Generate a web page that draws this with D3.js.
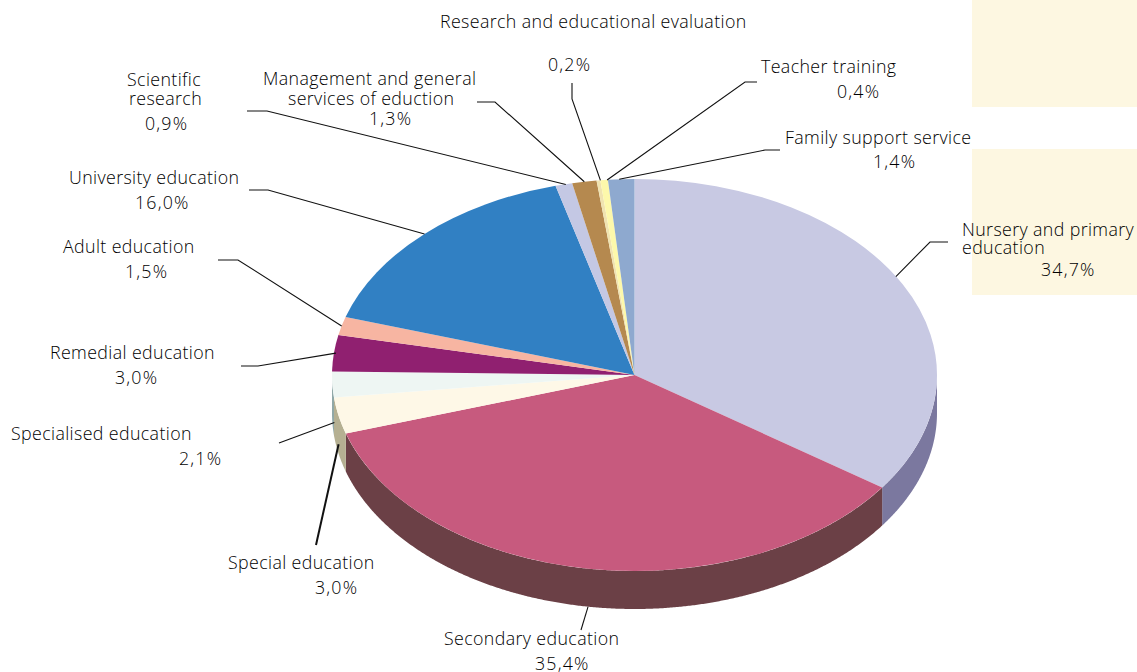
<!DOCTYPE html>
<html>
<head>
<meta charset="utf-8">
<script src="https://cdn.jsdelivr.net/npm/d3@7"></script>
<style>
  body { margin: 0; background: #fff; }
  svg { display: block; }
  text { font-family: "Open Sans", sans-serif; font-size: 17.8px; font-weight: 300; fill: #000; letter-spacing: 0.38px; }
  text.pct { letter-spacing: 1.2px; }
</style>
</head>
<body>
<script>
const categories = [
  "Nursery and primary education", "Secondary education", "Special education",
  "Specialised education", "Remedial education", "Adult education",
  "University education", "Scientific research",
  "Management and general services of eduction",
  "Research and educational evaluation", "Teacher training", "Family support service"
];
const shares = [34.7, 35.4, 3.0, 2.1, 3.0, 1.5, 16.0, 0.9, 1.3, 0.2, 0.4, 1.4];

const topColors = ["#c8c9e3", "#c75a7e", "#fef8e7", "#eef6f3", "#902070", "#f7b5a2",
  "#3180c3", "#c4c8e4", "#b5894f", "#f0e3b0", "#fdf8ab", "#8ea9cf"];
const wallColors = ["#7b789f", "#6b4046", "#b5b092", "#90a8a8", "#50123f", "#8a6558",
  "#1b476c", "#6d6f80", "#654c2c", "#786d56", "#8d8a5f", "#4f5e73"];

// label text lines as they break in the picture, with their start x and baseline y
const labelLayout = [
  [["Nursery and primary", 962, 236], ["education", 962, 254], ["%", 1041, 276]],
  [["Secondary education", 444, 645], ["%", 535, 670]],
  [["Special education", 228, 569], ["%", 315, 594]],
  [["Specialised education", 11, 440], ["%", 179, 465]],
  [["Remedial education", 50, 359], ["%", 115, 384]],
  [["Adult education", 63, 253], ["%", 125, 278]],
  [["University education", 69, 184], ["%", 135, 209]],
  [["Scientific", 127, 86], ["research", 129, 105], ["%", 145, 130]],
  [["Management and general", 263, 85], ["services of eduction", 288, 105], ["%", 369, 125]],
  [["Research and educational evaluation", 440, 28], ["%", 548, 71]],
  [["Teacher training", 761, 73], ["%", 837, 98]],
  [["Family support service", 785, 144], ["%", 873, 168]]
];
// leader line points outward from the slice
const leaderElbows = [
  [[930, 242], [948, 242]],
  [[581, 630]],
  [[316, 545]],
  [[279, 443]],
  [[258, 366], [241, 366]],
  [[238, 260], [218, 260]],
  [[268, 190], [249, 190]],
  [[267, 111], [247, 111]],
  [[495, 102], [477, 102]],
  [[572, 99], [572, 83]],
  [[745, 82], [757, 82]],
  [[765, 150], [780, 150]]
];
// how far down the wall each leader starts, and a small shift of its start
const leaderDrop = [0, 1, 0.75, 1, 0, 0, 0, 0, 0, 0, 0, 0];
const leaderShift = [[-7, -8], [0, 0], [0, 0], [2, 0], [2, 0], [0, 0], [0, 0], [2, 0], [0, 0], [2, 0], [3, 0], [-2, 0]];

const width = 1137, height = 672;
const cx = 634.5, cy = 375, rx = 302.5, ry = 196, depth = 38;

const svg = d3.select("body").append("svg")
  .attr("width", width)
  .attr("height", height);

// pale panels behind the right-hand labels
svg.selectAll("rect.panel")
  .data([[0, 107], [149, 295]])
  .join("rect")
  .attr("class", "panel")
  .attr("x", 972)
  .attr("y", d => d[0])
  .attr("width", width - 972)
  .attr("height", d => d[1] - d[0])
  .attr("fill", "#fdf7e1");

const slices = d3.pie().sort(null)(shares);

const px = a => cx + rx * Math.sin(a);
const py = a => cy - ry * Math.cos(a);

// side wall: only the part of the rim facing the viewer
const wall = d3.area()
  .x(a => px(a))
  .y0(a => py(a))
  .y1(a => py(a) + depth);

svg.append("g")
  .selectAll("path")
  .data(slices)
  .join("path")
  .attr("fill", d => wallColors[d.index])
  .attr("d", d => {
    const a0 = Math.max(d.startAngle, Math.PI / 2);
    const a1 = Math.min(d.endAngle, Math.PI * 1.5);
    if (a0 >= a1) return null;
    return wall(d3.range(a0, a1, 0.005).concat(a1));
  });

const arc = d3.arc().innerRadius(0).outerRadius(rx);

svg.append("g")
  .attr("transform", `translate(${cx},${cy}) scale(1,${ry / rx})`)
  .selectAll("path")
  .data(slices)
  .join("path")
  .attr("fill", d => topColors[d.index])
  .attr("d", arc);

const leader = d3.line();

svg.append("g")
  .selectAll("path")
  .data(slices)
  .join("path")
  .attr("fill", "none")
  .attr("stroke", "#111")
  .attr("stroke-width", d => d.index === 2 ? 2 : 1.1)
  .attr("d", d => {
    const mid = (d.startAngle + d.endAngle) / 2;
    const start = [
      px(mid) + leaderShift[d.index][0],
      py(mid) + depth * leaderDrop[d.index] + leaderShift[d.index][1]
    ];
    return leader([start, ...leaderElbows[d.index]]);
  });

const pct = d3.formatLocale({ decimal: ",", thousands: ".", grouping: [3], currency: ["", ""] }).format(".1f");

svg.append("g")
  .selectAll("g")
  .data(slices)
  .join("g")
  .selectAll("text")
  .data(d => labelLayout[d.index].map(([t, x, y]) => ({
    t: t === "%" ? pct(shares[d.index]) + "%" : t,
    isPct: t === "%",
    x, y
  })))
  .join("text")
  .attr("class", d => d.isPct ? "pct" : null)
  .attr("x", d => d.x)
  .attr("y", d => d.y)
  .text(d => d.t);
</script>
</body>
</html>
